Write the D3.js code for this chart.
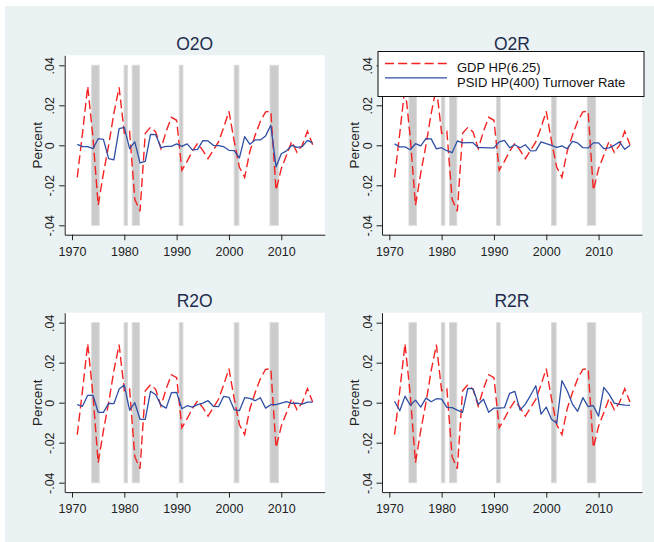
<!DOCTYPE html>
<html>
<head>
<meta charset="utf-8">
<script src="https://cdn.jsdelivr.net/npm/d3@7"></script>
<style>
	body { margin: 0; background: #fff; }
	svg { display: block; font-family: "Liberation Sans", Arial, Helvetica, sans-serif; }
</style>
</head>
<body>
<svg id="chart" width="654" height="542"></svg>
<script>
// Data
const years = [1971, 1972, 1973, 1974, 1975, 1976, 1977, 1978, 1979, 1980,
	1981, 1982, 1983, 1984, 1985, 1986, 1987, 1988, 1989, 1990,
	1991, 1992, 1993, 1994, 1995, 1996, 1997, 1998, 1999, 2000,
	2001, 2002, 2003, 2004, 2005, 2006, 2007, 2008, 2009, 2010,
	2011, 2012, 2013, 2014, 2015, 2016];

const gdp = [-0.016, 0.006, 0.0295, 0.004, -0.030, -0.014, 0.000, 0.016, 0.029, 0.006,
	0.007, -0.027, -0.033, 0.006, 0.009, 0.0067, -0.0017, 0.007, 0.014, 0.0125,
	-0.0125, -0.008, -0.003, 0.001, -0.0025, -0.0067, -0.0025, 0.0017, 0.009, 0.017,
	0.002, -0.011, -0.016, -0.003, 0.005, 0.012, 0.0167, 0.017, -0.0225, -0.0117,
	-0.005, 0.002, -0.0035, 0.000, 0.007, 0.0003];

const o2o = [0.0005, -0.0007, -0.0007, -0.0017, 0.0033, 0.003, -0.0067, -0.0073, 0.0083, 0.009,
	-0.0017, 0.0017, -0.0088, -0.008, 0.0055, 0.0053, -0.0012, -0.0005, -0.0005, 0.0007,
	-0.0005, 0.0007, -0.0023, -0.002, 0.0023, 0.0022, 0.0, -0.0002, -0.0007, -0.0025,
	-0.0027, -0.0063, 0.0043, 0.0005, 0.0027, 0.0027, 0.0047, 0.010, -0.0108, -0.0042,
	-0.0028, 0.0, -0.001, -0.0007, 0.0025, 0.0012];

const o2r = [0.0007, -0.0008, -0.0008, -0.0022, 0.0008, -0.0003, 0.0033, 0.0032, -0.0018, -0.0012,
	-0.0027, -0.0037, 0.0022, 0.0012, 0.0013, 0.0013, -0.0012, -0.0012, -0.0013, -0.0013,
	0.0017, 0.0025, -0.0012, 0.0003, -0.0012, 0.0003, -0.0028, -0.0027, 0.0017, 0.0008,
	0.0, -0.001, -0.0003, -0.0017, 0.002, 0.0012, -0.0012, -0.0013, 0.0012, 0.0012,
	-0.0017, -0.0013, 0.0, 0.0017, -0.002, 0.0];

const r2o = [-0.001, -0.0018, 0.0037, 0.0037, -0.0048, -0.0048, -0.0003, -0.0005, 0.0068, 0.0088,
	-0.0037, 0.0, -0.0083, -0.0083, 0.0057, 0.004, -0.0012, -0.0027, 0.005, 0.0052,
	-0.003, -0.0015, -0.0022, -0.001, -0.0002, 0.001, -0.0018, -0.002, 0.0032, 0.0027,
	-0.0035, -0.004, 0.0025, 0.0022, 0.001, 0.0025, -0.0027, -0.001, -0.001, -0.0002,
	0.0005, -0.0003, -0.0002, -0.0007, 0.0003, 0.0003];

const r2r = [0.0007, -0.004, 0.0033, -0.0013, 0.0013, -0.0022, 0.0023, 0.0005, 0.002, 0.0018,
	-0.0023, -0.0025, -0.0037, -0.0048, 0.0072, 0.007, -0.0008, 0.0017, -0.0048, -0.0027,
	-0.0027, -0.0025, 0.0047, 0.0057, -0.0037, -0.0007, 0.0037, 0.0085, -0.0057, -0.0022,
	-0.0083, -0.0103, 0.011, 0.006, -0.0007, -0.0043, 0.0025, -0.002, -0.0015, -0.0067,
	0.0077, 0.0043, -0.0002, -0.0008, -0.0012, -0.0013];

const panelNames = ["O2O", "O2R", "R2O", "R2R"];
const panelSeries = [o2o, o2r, r2o, r2r];

// NBER recessions (start, end) in fractional years
const recessions = [[1973.75, 1975.2], [1979.95, 1980.6], [1981.5, 1982.9],
	[1990.5, 1991.2], [2001.0, 2001.9], [2007.85, 2009.45]];

const yTicks = [-0.04, -0.02, 0, 0.02, 0.04];
const yTickLabels = ["-.04", "-.02", "0", ".02", ".04"];
const xTicks = [1970, 1980, 1990, 2000, 2010];

const legendLabels = ["GDP HP(6.25)", "PSID HP(400) Turnover Rate"];

// Colours
const bgColor = "#eaf2f3";
const redColor = "#f52222";
const blueColor = "#2f4fa6";
const shadeColor = "#cbcbcb";
const titleColor = "#1e2c4e";

const svg = d3.select("#chart");

svg.append("rect")
	.attr("x", 5).attr("y", 6)
	.attr("width", 649).attr("height", 536)
	.attr("fill", bgColor);

const plotW = 260;
const plotH = 179.4;

const x = d3.scaleLinear().domain([1968.6, 2018.3]).range([0, plotW]);
const y = d3.scaleLinear().domain([-0.0447, 0.045]).range([plotH, 0]);

const line = d3.line()
	.x((d) => x(d[0]))
	.y((d) => y(d[1]));

panelNames.forEach((name, i) => {
	const col = i % 2;
	const row = Math.floor(i / 2);
	const left = 64.7 + col * 317.3;
	const top = 55.3 + row * 257.4;

	const g = svg.append("g").attr("transform", `translate(${left},${top})`);

	// Plot region
	g.append("rect")
		.attr("width", plotW).attr("height", plotH)
		.attr("fill", "#fff");

	// Recession shading
	g.append("g")
		.selectAll("rect")
		.data(recessions)
		.join("rect")
		.attr("x", (d) => x(d[0]))
		.attr("y", y(0.04))
		.attr("width", (d) => x(d[1]) - x(d[0]))
		.attr("height", y(-0.04) - y(0.04))
		.attr("fill", shadeColor)
		.attr("stroke", "#dcdcdc")
		.attr("stroke-width", 1);

	// GDP line
	g.append("path")
		.datum(years.map((yr, k) => [yr, gdp[k]]))
		.attr("d", line)
		.attr("fill", "none")
		.attr("stroke", redColor)
		.attr("stroke-width", 1.4)
		.attr("stroke-dasharray", "9,4.2");

	// Turnover line
	g.append("path")
		.datum(years.map((yr, k) => [yr, panelSeries[i][k]]))
		.attr("d", line)
		.attr("fill", "none")
		.attr("stroke", blueColor)
		.attr("stroke-width", 1.3)
		.attr("stroke-linejoin", "round");

	// Y axis
	const yAxis = g.append("g")
		.call(d3.axisLeft(y).tickValues(yTicks).tickSize(5.5).tickSizeOuter(0)
			.tickFormat((d, k) => yTickLabels[k]));
	yAxis.selectAll("text")
		.attr("transform", "rotate(-90)")
		.attr("x", 0)
		.attr("y", -10.5)
		.attr("dy", null)
		.attr("text-anchor", "middle")
		.style("font-size", "12.5px")
		.attr("fill", "#222");

	// X axis
	const xAxis = g.append("g")
		.attr("transform", `translate(0,${plotH})`)
		.call(d3.axisBottom(x).tickValues(xTicks).tickSize(5.5).tickSizeOuter(0)
			.tickFormat(d3.format("d")));
	xAxis.selectAll("text")
		.attr("y", 21.3)
		.attr("dy", null)
		.style("font-size", "12.5px")
		.attr("fill", "#222");

	g.selectAll(".domain, .tick line").attr("stroke", "#222");
	g.selectAll("text").attr("font-family", null);

	// Axis title
	g.append("text")
		.attr("transform", `translate(-23,${y(0)}) rotate(-90)`)
		.attr("text-anchor", "middle")
		.style("font-size", "13.5px")
		.attr("fill", "#222")
		.text("Percent");

	// Panel title
	g.append("text")
		.attr("x", plotW / 2)
		.attr("y", -5.3)
		.attr("text-anchor", "middle")
		.style("font-size", "17.5px")
		.attr("fill", titleColor)
		.text(name);
});

// Legend (sits on the O2R panel)
const legend = svg.append("g").attr("transform", "translate(378,51.5)");
legend.append("rect")
	.attr("width", 266).attr("height", 45)
	.attr("fill", "#fff")
	.attr("stroke", "#111")
	.attr("stroke-width", 1);

const legendStyles = [
	{ color: redColor, dash: "9,4.2" },
	{ color: blueColor, dash: null },
];
legendLabels.forEach((label, k) => {
	legend.append("line")
		.attr("x1", 7).attr("x2", 69)
		.attr("y1", 12 + k * 14.4).attr("y2", 12 + k * 14.4)
		.attr("stroke", legendStyles[k].color)
		.attr("stroke-width", 1.4)
		.attr("stroke-dasharray", legendStyles[k].dash);
	legend.append("text")
		.attr("x", 79)
		.attr("y", 20 + k * 15)
		.style("font-size", "13px")
		.attr("fill", "#111")
		.text(label);
});
</script>
</body>
</html>
